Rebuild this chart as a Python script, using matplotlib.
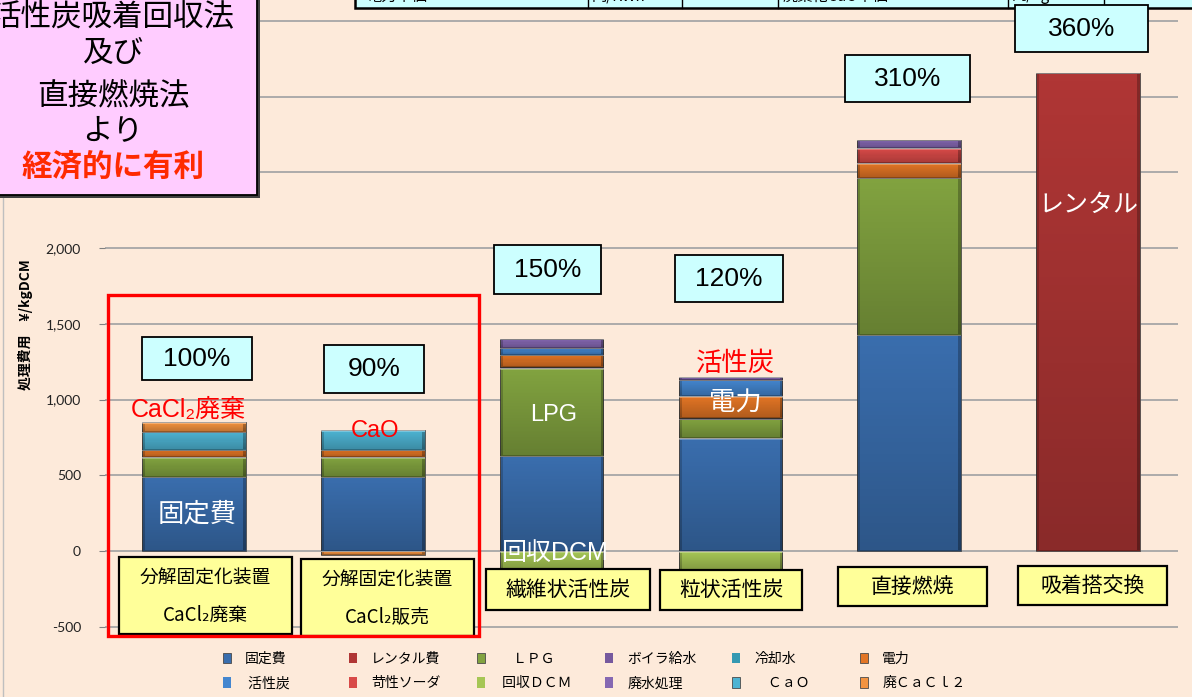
import numpy as np
import matplotlib
matplotlib.use('Agg')
import matplotlib.pyplot as plt
from matplotlib.patches import Rectangle
from matplotlib.lines import Line2D
from matplotlib.ticker import FuncFormatter

plt.rcParams['font.family'] = ['Noto Sans CJK JP', 'DejaVu Sans']

W, H = 1192, 697
BG = '#FDEADA'

categories = ['分解固定化装置\nCaCl₂廃棄', '分解固定化装置\nCaCl₂販売',
              '繊維状活性炭', '粒状活性炭', '直接燃焼', '吸着搭交換']
ratio_labels = ['100%', '90%', '150%', '120%', '310%', '360%']

# cost items (yen / kg-DCM), stacked bottom to top in this order
fixed   = [490, 490, 629, 744, 1426, 0]
rental  = [0, 0, 0, 0, 0, 3155]
lpg     = [128, 128, 578, 130, 1038, 0]
boiler  = [0, 0, 5, 5, 0, 0]
cooling = [0, 0, 0, 0, 0, 0]
power   = [49, 49, 80, 142, 99, 0]
carbon  = [0, 0, 48, 110, 0, 0]
caustic = [0, 0, 0, 0, 95, 0]
dcm_rec = [0, 0, -125, -125, 0, 0]
waste_w = [0, 0, 62, 17, 55, 0]
cao     = [121, 131, 0, 0, 0, 0]
cacl2   = [65, -25, 0, 0, 0, 0]

series = [fixed, rental, lpg, boiler, cooling, power,
          carbon, caustic, dcm_rec, waste_w, cao, cacl2]
legend_labels = ['固定費', 'レンタル費', '　ＬＰＧ', 'ボイラ給水', '冷却水', '電力',
                 ' 活性炭', '苛性ソーダ', ' 回収ＤＣＭ', '廃水処理', '　ＣａＯ', '廃ＣａＣｌ２']
colors = ['#3A6EAE', '#B03635', '#82A340', '#76599E', '#3599B2', '#E27525',
          '#4486CF', '#D84A48', '#A6C655', '#8568B2', '#4DB3D2', '#F39340']

fig = plt.figure(figsize=(W / 100, H / 100), dpi=100, facecolor=BG)
ax = fig.add_axes([104.5 / W, 57 / H, 1073 / W, 640 / H])
ax.set_facecolor(BG)

YMIN, YMAX = -587, 3637
px_per_unit = 640 / (YMAX - YMIN)

x = np.arange(len(categories))
pos_base = np.zeros(len(x))
neg_base = np.zeros(len(x))
handles = []
for vals, col, lab in zip(series, colors, legend_labels):
    v = np.array(vals, dtype=float)
    bottom = np.where(v >= 0, pos_base, neg_base)
    lw = np.where(v != 0, 0.6, 0.0)
    bars = ax.bar(x, v, 0.58, bottom=bottom, color=col, edgecolor='#4a4a4a',
                  linewidth=lw, label=lab, zorder=3)
    handles.append(bars)
    pos_base += np.clip(v, 0, None)
    neg_base += np.clip(v, None, 0)


def bevel(patch):
    # light top edge, darker sides and bottom, like an embossed block
    h = patch.get_height()
    if h == 0:
        return
    x0, w = patch.get_x(), patch.get_width()
    y0, y1 = sorted([patch.get_y(), patch.get_y() + h])
    rows = max(int(round(abs(h) * px_per_unit)), 2)
    cols = 104
    img = np.zeros((rows, cols, 4))
    img[:, :, 3] = 0.22 * np.linspace(0, 1, rows)[:, None]
    img[:, :3, 3] += 0.18
    img[:, -3:, 3] += 0.25
    img[-1, :, 3] = 0.4
    img[0, :, :] = [1, 1, 1, 0.45]
    if rows > 4:
        img[1, :, :] = [1, 1, 1, 0.25]
    im = ax.imshow(img, extent=(x0, x0 + w, y0, y1), aspect='auto', origin='upper',
                   interpolation='nearest', zorder=3.2)
    im.set_clip_path(patch)


for bars in handles:
    for p in bars.patches:
        bevel(p)

ax.set_xlim(-0.5, 5.5)
ax.set_ylim(YMIN, YMAX)
ax.set_yticks(np.arange(-500, 3501, 500))
ax.yaxis.set_major_formatter(FuncFormatter(lambda v, p: f'{v:,.0f}' if v <= 2000 else ''))
ax.set_xticks([])
ax.grid(axis='y', color='#A6A6A6', lw=1.3, zorder=0)
for s in ax.spines.values():
    s.set_visible(False)
ax.tick_params(axis='y', length=4, color='#808080', pad=13, labelsize=10, labelcolor='#222222')
plt.setp(ax.get_yticklabels(), fontfamily='Lato')
ax.set_ylabel('処理費用　¥/kgDCM', fontsize=10, fontweight='bold')
ax.yaxis.set_label_coords(-0.0666, 0.492)

# labels written on the bars
ax.text(0.02, 244, '固定費', color='white', fontsize=19, ha='center', va='center', zorder=5)
ax.text(-0.03, 931, 'CaCl₂廃棄', color='red', fontsize=18, ha='center', va='center', zorder=5,
        family=['Liberation Sans', 'Noto Sans CJK JP', 'DejaVu Sans'])
ax.text(1.01, 792, 'CaO', color='red', fontsize=17, ha='center', va='center', zorder=5,
        family=['Liberation Sans'])
ax.text(2.01, 898, 'LPG', color='white', fontsize=17, ha='center', va='center', zorder=5,
        family=['Liberation Sans'])
ax.text(2.02, -13, '回収DCM', color='white', fontsize=18, ha='center', va='center', zorder=5,
        family=['Liberation Sans', 'Noto Sans CJK JP'])
ax.text(3.03, 1241, '活性炭', color='red', fontsize=19, ha='center', va='center', zorder=5)
ax.text(3.03, 977, '電力', color='white', fontsize=19, ha='center', va='center', zorder=5)
ax.text(5.0, 2284, 'レンタル', color='white', fontsize=18, ha='center', va='center', zorder=5)


def fig_box(x0, y0, x1, y1, fc, ec='black', lw=1.3, z=2):
    fig.add_artist(Rectangle((x0 / W, 1 - y1 / H), (x1 - x0) / W, (y1 - y0) / H,
                             transform=fig.transFigure, fc=fc, ec=ec, lw=lw, zorder=z))


def fig_label(px, py, s, z=4, **kw):
    fig.text(px / W, 1 - py / H, s, ha='center', va='center', zorder=z, **kw)


# data table strip along the top edge
fig_box(355, -30, 1200, 8, '#CCFFFF', lw=1.8, z=1.5)
for xv in [588, 682, 778, 1008, 1104]:
    fig.add_artist(Line2D([xv / W, xv / W], [1 - 8 / H, 1.0], transform=fig.transFigure,
                          color='black', lw=1.0, zorder=1.6))
for px, s, ha in [(367, '電力単価', 'left'), (592, '円/KWh', 'left'), (775, '10', 'right'),
                  (783, '廃棄化CaO単価', 'left'), (1012, '円/kg', 'left'), (1190, '100', 'right')]:
    fig.text(px / W, 1 + 4 / H, s, ha=ha, va='center', fontsize=11, zorder=1.7)

# ratio boxes above each bar
ratio_boxes = [(142, 337, 252, 380), (324, 345, 424, 393), (494, 245, 601, 294),
               (675, 255, 783, 302), (845, 55, 970, 102), (1015, 5, 1148, 52)]
for (x0, y0, x1, y1), s in zip(ratio_boxes, ratio_labels):
    fig_box(x0, y0, x1, y1, '#CCFFFF', lw=1.3, z=2)
    fig_label((x0 + x1) / 2, (y0 + y1) / 2, s, fontsize=19, family=['Liberation Sans'])

# category name boxes
cat_boxes = [(119, 557, 292, 634), (301, 559, 474, 636), (486, 569, 650, 610),
             (660, 570, 802, 610), (838, 567, 987, 606), (1018, 566, 1167, 605)]
for (x0, y0, x1, y1), name in zip(cat_boxes, categories):
    fig_box(x0, y0, x1, y1, '#FFFF99', lw=1.6, z=2)
    lines = name.split('\n')
    if len(lines) == 2:
        fig_label((x0 + x1) / 2, y0 + 21, lines[0], fontsize=13.5)
        fig_label((x0 + x1) / 2, y0 + 58, lines[1], fontsize=13.5)
    else:
        fig_label((x0 + x1) / 2, (y0 + y1) / 2, name, fontsize=15)

# red frame round the two decomposition cases
fig_box(108, 295, 479, 636, 'none', ec='#FF0000', lw=2.4, z=2.5)

# conclusion box, upper left
fig_box(-1, -1, 260, 198, '#404040', ec='none', lw=0, z=5)
fig_box(-4, -4, 257, 195, '#FFCCFF', lw=1.3, z=5.1)
for py, s, c, wgt in [(17, '活性炭吸着回収法', 'black', 'normal'), (53, '及び', 'black', 'normal'),
                      (96, '直接燃焼法', 'black', 'normal'), (131, 'より', 'black', 'normal'),
                      (168, '経済的に有利', '#FF2A00', 'bold')]:
    fig_label(113, py, s, z=6, fontsize=22, color=c, fontweight=wgt)

# legend, one block per column
col_x = [223, 349, 477, 605, 732, 860]
for j, cx in enumerate(col_x):
    fig.legend(handles=[handles[j], handles[j + 6]],
               labels=[legend_labels[j], legend_labels[j + 6]],
               loc='center left', bbox_to_anchor=(cx / W, 1 - 671 / H),
               frameon=False, fontsize=10, handlelength=0.6, handleheight=0.8,
               handletextpad=1.0, labelspacing=0.75, borderpad=0, borderaxespad=0)

fig.add_artist(Line2D([3 / W, 3 / W], [0, 1], transform=fig.transFigure, color='#BFBFBF', lw=1.0, zorder=0.5))

fig.savefig('out.png', dpi=100, facecolor=BG)
